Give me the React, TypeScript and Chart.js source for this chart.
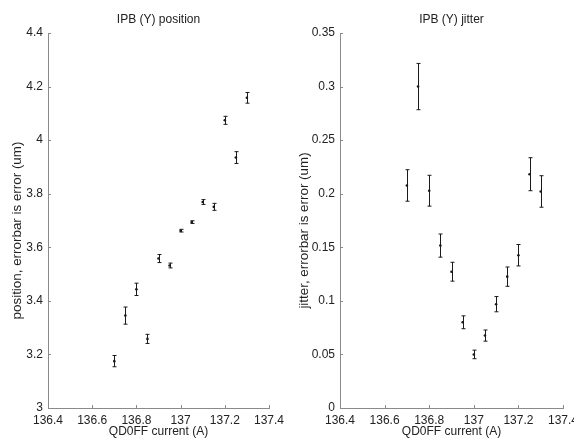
import React, { useEffect, useRef } from "react";
import { Chart, registerables } from "chart.js";

Chart.register(...registerables);

const current = [136.7, 136.75, 136.8, 136.85, 136.9, 136.95, 137.0, 137.05, 137.1, 137.15, 137.2, 137.25, 137.3];
const position = [3.175, 3.345, 3.443, 3.258, 3.558, 3.532, 3.662, 3.694, 3.769, 3.751, 4.074, 3.935, 4.158];
const positionErr = [0.021, 0.032, 0.023, 0.017, 0.015, 0.009, 0.005, 0.005, 0.009, 0.013, 0.015, 0.022, 0.02];
const jitter = [0.2077, 0.3, 0.2028, 0.1516, 0.1272, 0.08, 0.05, 0.0676, 0.0969, 0.1226, 0.1426, 0.2182, 0.2021];
const jitterErr = [0.0147, 0.0216, 0.0144, 0.0108, 0.0088, 0.006, 0.004, 0.0052, 0.0071, 0.009, 0.01, 0.0154, 0.0147];
const xTicks = [136.4, 136.6, 136.8, 137, 137.2, 137.4];
const positionTicks = [3, 3.2, 3.4, 3.6, 3.8, 4, 4.2, 4.4];
const jitterTicks = [0, 0.05, 0.1, 0.15, 0.2, 0.25, 0.3, 0.35];

const FONT = "'Liberation Sans', Arial, sans-serif";
const AXIS = "#8a8a8a";
const TEXT = "#222222";
const MARK = "#1a1a1a";

type PanelProps = {
  left: number;
  title: string;
  yTitle: string;
  ys: number[];
  errs: number[];
  yTicks: number[];
  yAxisWidth: number;
  rightPad: number;
  yTitleX: number;
};

function Panel(p: PanelProps) {
  const ref = useRef<HTMLCanvasElement | null>(null);
  useEffect(() => {
    if (!ref.current) return;
    const font = { family: FONT, size: 12 };
    const errPlugin = {
      id: "errbars",
      afterDatasetsDraw(chart: any) {
        const ctx = chart.ctx;
        const xs = chart.scales.x;
        const ysc = chart.scales.y;
        ctx.save();
        ctx.strokeStyle = MARK;
        ctx.lineWidth = 1;
        current.forEach((x, i) => {
          const px = Math.round(xs.getPixelForValue(x)) + 0.5;
          const y1 = ysc.getPixelForValue(p.ys[i] + p.errs[i]);
          const y2 = ysc.getPixelForValue(p.ys[i] - p.errs[i]);
          ctx.beginPath();
          ctx.moveTo(px, y1);
          ctx.lineTo(px, y2);
          ctx.moveTo(px - 2, y1);
          ctx.lineTo(px + 2, y1);
          ctx.moveTo(px - 2, y2);
          ctx.lineTo(px + 2, y2);
          ctx.stroke();
        });
        ctx.restore();
      },
    };
    const decoPlugin = {
      id: "deco",
      afterDraw(chart: any) {
        const ctx = chart.ctx;
        const a = chart.chartArea;
        const xs = chart.scales.x;
        const ysc = chart.scales.y;
        ctx.save();
        ctx.fillStyle = TEXT;
        ctx.font = `12px ${FONT}`;
        ctx.textAlign = "center";
        ctx.textBaseline = "middle";
        ctx.fillText(p.title, (a.left + a.right) / 2, 20);
        ctx.save();
        ctx.font = `13.4px ${FONT}`;
        ctx.translate(p.yTitleX, (a.top + a.bottom) / 2 + 10);
        ctx.rotate(-Math.PI / 2);
        ctx.fillText(p.yTitle, 0, 0);
        ctx.restore();
        ctx.strokeStyle = AXIS;
        ctx.lineWidth = 1;
        ctx.beginPath();
        xTicks.forEach((v) => {
          const px = Math.round(xs.getPixelForValue(v)) + 0.5;
          ctx.moveTo(px, a.bottom);
          ctx.lineTo(px, a.bottom - 3);
        });
        p.yTicks.forEach((v) => {
          const py = Math.round(ysc.getPixelForValue(v)) + 0.5;
          ctx.moveTo(a.left, py);
          ctx.lineTo(a.left + 3, py);
        });
        ctx.stroke();
        ctx.restore();
      },
    };
    const chart = new Chart(ref.current, {
      type: "scatter",
      data: {
        datasets: [
          {
            data: current.map((x, i) => ({ x, y: p.ys[i] })),
            pointRadius: 1.3,
            pointBackgroundColor: MARK,
            pointBorderColor: MARK,
            pointBorderWidth: 0,
          },
        ],
      },
      options: {
        animation: false,
        responsive: false,
        devicePixelRatio: 1,
        layout: { padding: { top: 33, right: p.rightPad, left: 0, bottom: 0 } },
        plugins: { legend: { display: false }, tooltip: { enabled: false } },
        scales: {
          x: {
            type: "linear",
            min: xTicks[0],
            max: xTicks[xTicks.length - 1],
            afterBuildTicks: (s: any) => {
              s.ticks = xTicks.map((v) => ({ value: v }));
            },
            afterFit: (s: any) => {
              s.height = 31;
              s.paddingLeft = 0;
              s.paddingRight = 0;
            },
            grid: { display: false, drawTicks: false },
            border: { color: AXIS, width: 1 },
            ticks: {
              font,
              color: TEXT,
              padding: 5,
              maxRotation: 0,
              autoSkip: false,
              callback: (v: any) => String(Number(v)),
            },
            title: {
              display: true,
              text: "QD0FF current (A)",
              font,
              color: TEXT,
              padding: { top: 0, bottom: 0 },
            },
          },
          y: {
            type: "linear",
            min: p.yTicks[0],
            max: p.yTicks[p.yTicks.length - 1],
            afterBuildTicks: (s: any) => {
              s.ticks = p.yTicks.map((v) => ({ value: v }));
            },
            afterFit: (s: any) => {
              s.width = p.yAxisWidth;
              s.paddingTop = 0;
              s.paddingBottom = 0;
            },
            grid: { display: false, drawTicks: false },
            border: { color: AXIS, width: 1 },
            ticks: {
              font,
              color: TEXT,
              padding: 5,
              autoSkip: false,
              callback: (v: any) => String(Number(v)),
            },
            title: { display: false },
          },
        },
      },
      plugins: [errPlugin, decoPlugin],
    } as any);
    return () => chart.destroy();
  }, []);
  return (
    <canvas
      ref={ref}
      width={287}
      height={439}
      style={{ position: "absolute", left: p.left, top: 0, width: 287, height: 439 }}
    />
  );
}

export default function App() {
  return (
    <div style={{ position: "fixed", left: 0, top: 0, width: 574, height: 439, background: "#fff", overflow: "hidden" }}>
      <Panel
        left={0}
        title="IPB (Y) position"
        yTitle="position, errorbar is error (um)"
        ys={position}
        errs={positionErr}
        yTicks={positionTicks}
        yAxisWidth={48}
        rightPad={18}
        yTitleX={17.5}
      />
      <Panel
        left={287}
        title="IPB (Y) jitter"
        yTitle="jitter, errorbar is error (um)"
        ys={jitter}
        errs={jitterErr}
        yTicks={jitterTicks}
        yAxisWidth={53}
        rightPad={11}
        yTitleX={17}
      />
    </div>
  );
}
